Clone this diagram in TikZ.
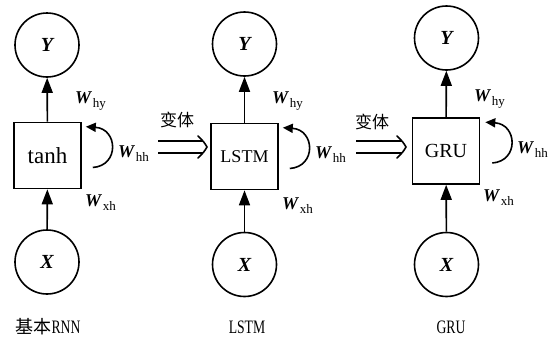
\documentclass[tikz,border=0pt]{standalone}
\usepackage{fontspec}
\setmainfont{Liberation Serif}
\newfontfamily\cjk{Noto Sans CJK SC}
\usetikzlibrary{arrows.meta}
\newcommand\Wlab[1]{{\fontsize{18}{20}\selectfont\bfseries\itshape W}\,{\fontsize{13}{14}\selectfont\raisebox{-4pt}{#1}}}
\newcommand\narrow[1]{\scalebox{0.72}[1]{#1}}
\begin{document}
\begin{tikzpicture}[x=1pt,y=-1pt,
  unit/.style={circle,draw,line width=1.6pt,minimum size=64pt,inner sep=0pt,font=\fontsize{20}{22}\selectfont\bfseries\itshape},
  cell/.style={draw,line width=1.6pt,minimum width=67pt,minimum height=66pt,inner sep=0pt},
  flow/.style={line width=1.6pt,-{Triangle[length=15pt,width=11pt]}},
  loopar/.style={line width=1.6pt,-{Triangle[length=10pt,width=9pt]}},
  varline/.style={line width=1.6pt},
  varhead/.style={line width=1.6pt,line cap=round},
  wlab/.style={anchor=west,inner sep=0pt},
  caplab/.style={inner sep=0pt,font=\fontsize{19}{22}\selectfont},
  vlab/.style={inner sep=0pt,font=\cjk\fontsize{17}{19}\selectfont}
]
\path[use as bounding box] (0,0) rectangle (560,338);

% column 1
\node[unit] (y1) at (47,45) {Y};
\node[cell,font=\fontsize{23}{26}\selectfont] (b1) at (47.5,155.5) {tanh};
\node[unit] (x1) at (47,262) {X};
\draw[flow] (b1) -- (y1);
\draw[flow] (x1) -- (b1);
\coordinate (s1) at ([xshift=11pt,yshift=-12pt]b1.east);
\coordinate (e1) at ([xshift=4pt,yshift=-5pt]b1.north east);
\draw[loopar] (s1) .. controls +(27,-2) and +(32,2) .. (e1);
\node[wlab] (why1) at (75,101) {\Wlab{hy}};
\node[wlab] (whh1) at (118,154) {\Wlab{hh}};
\node[wlab] (wxh1) at (85,203) {\Wlab{xh}};
\node[caplab] (c1) at (48,327) {{\cjk\fontsize{18}{20}\selectfont 基本}\narrow{RNN}};

% variant arrow 1
\coordinate (a1s) at (158,147);
\coordinate (a1e) at (207,147);
\draw[varline] ([yshift=6pt]a1s) -- ([xshift=-4pt,yshift=6pt]a1e);
\draw[varline] ([yshift=-6pt]a1s) -- ([xshift=-4pt,yshift=-6pt]a1e);
\draw[varhead] ([xshift=-9pt,yshift=11pt]a1e) .. controls ([xshift=-3pt,yshift=5pt]a1e) .. (a1e)
  .. controls ([xshift=-3pt,yshift=-5pt]a1e) .. ([xshift=-9pt,yshift=-11pt]a1e);
\node[vlab] (v1) at (177,120) {变体};

% column 2
\node[unit] (y2) at (244.5,44) {Y};
\node[cell,font=\fontsize{18}{22}\selectfont] (b2) at (244.5,156.5) {LSTM};
\node[unit] (x2) at (244.5,264.5) {X};
\draw[flow] (b2) -- (y2);
\draw[flow] (x2) -- (b2);
\coordinate (s2) at ([xshift=11pt,yshift=-12pt]b2.east);
\coordinate (e2) at ([xshift=4pt,yshift=-5pt]b2.north east);
\draw[loopar] (s2) .. controls +(27,-2) and +(32,2) .. (e2);
\node[wlab] (why2) at (272,101) {\Wlab{hy}};
\node[wlab] (whh2) at (315,155) {\Wlab{hh}};
\node[wlab] (wxh2) at (282,206) {\Wlab{xh}};
\node[caplab] (c2) at (247,327) {\narrow{LSTM}};

% variant arrow 2
\coordinate (a2s) at (356,147);
\coordinate (a2e) at (406,147);
\draw[varline] ([yshift=6pt]a2s) -- ([xshift=-4pt,yshift=6pt]a2e);
\draw[varline] ([yshift=-6pt]a2s) -- ([xshift=-4pt,yshift=-6pt]a2e);
\draw[varhead] ([xshift=-9pt,yshift=11pt]a2e) .. controls ([xshift=-3pt,yshift=5pt]a2e) .. (a2e)
  .. controls ([xshift=-3pt,yshift=-5pt]a2e) .. ([xshift=-9pt,yshift=-11pt]a2e);
\node[vlab] (v2) at (372,122) {变体};

% column 3
\node[unit] (y3) at (446.5,38) {Y};
\node[cell,font=\fontsize{20}{24}\selectfont] (b3) at (446,151) {GRU};
\node[unit] (x3) at (446.5,264.5) {X};
\draw[flow] (b3) -- (y3);
\draw[flow] (x3) -- (b3);
\coordinate (s3) at ([xshift=12pt,yshift=-12pt]b3.east);
\coordinate (e3) at ([xshift=5pt,yshift=-5pt]b3.north east);
\draw[loopar] (s3) .. controls +(27,-2) and +(32,2) .. (e3);
\node[wlab] (why3) at (474,99) {\Wlab{hy}};
\node[wlab] (whh3) at (517,150) {\Wlab{hh}};
\node[wlab] (wxh3) at (483,198) {\Wlab{xh}};
\node[caplab] (c3) at (451,327) {\narrow{GRU}};
\end{tikzpicture}
\end{document}
